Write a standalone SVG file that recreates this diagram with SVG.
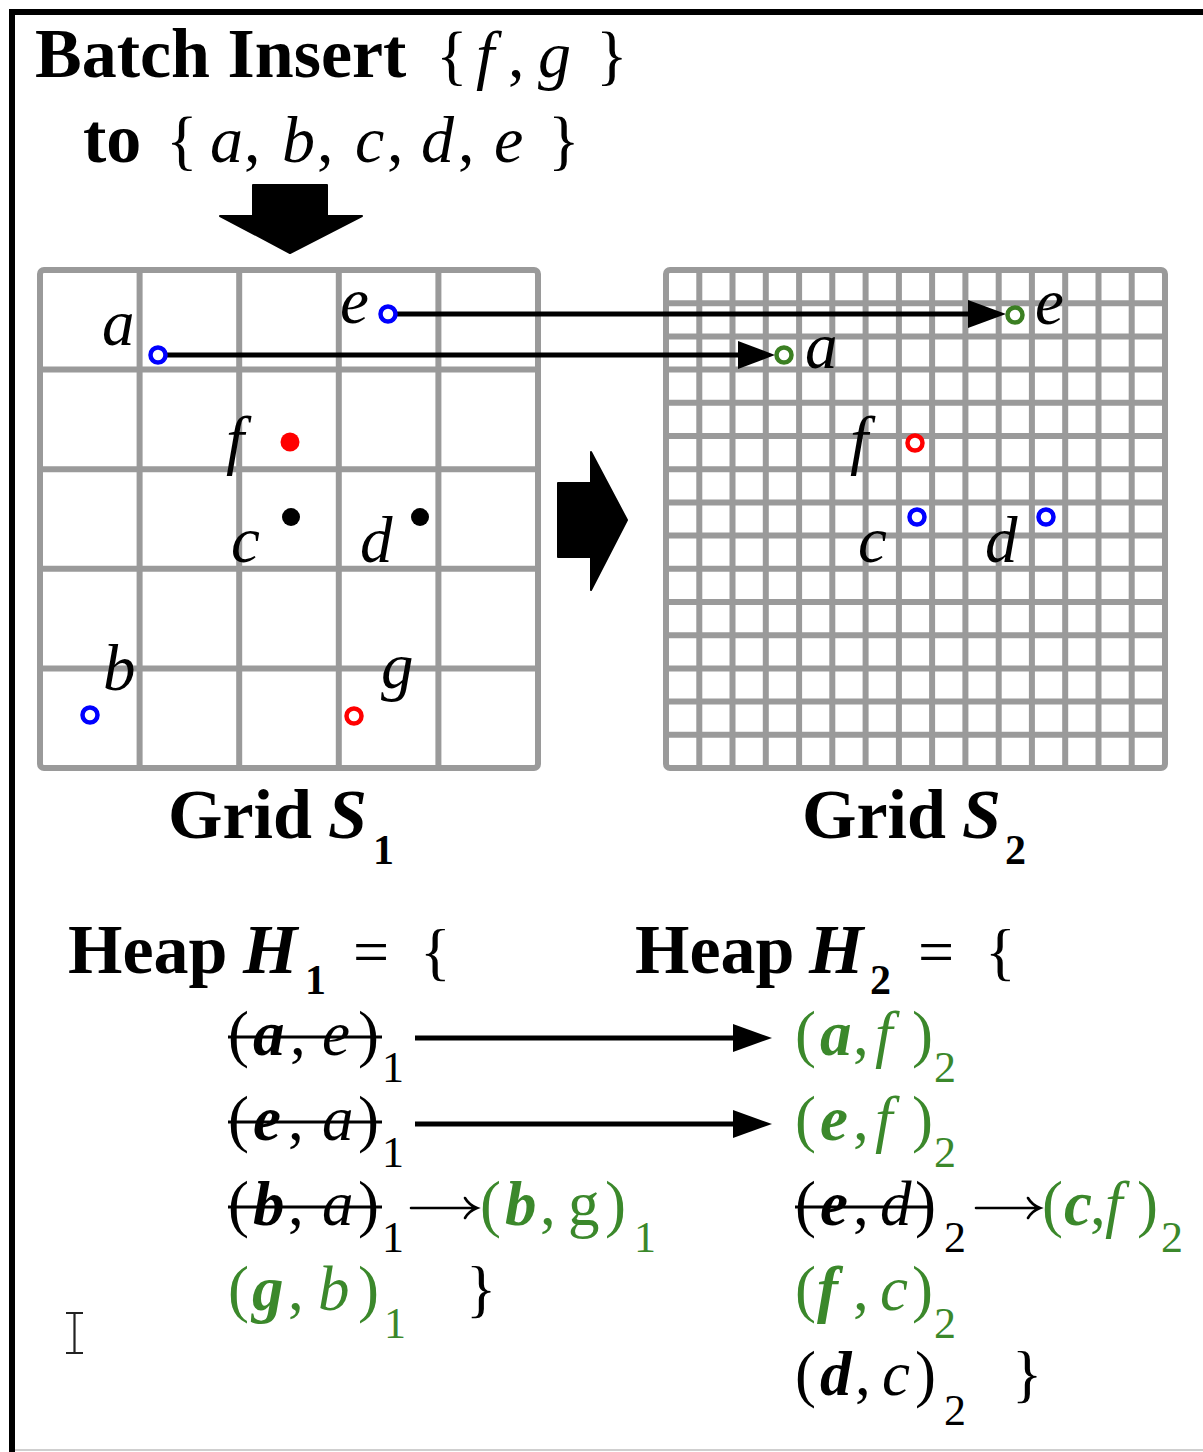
<svg xmlns="http://www.w3.org/2000/svg" width="1203" height="1452" viewBox="0 0 1203 1452">
<style>
text{font-family:"Liberation Serif","Times New Roman","DejaVu Serif",serif;fill:#000}
.b{font-weight:bold}
.i{font-style:italic}
.bi{font-weight:bold;font-style:italic}
.g{fill:#3b882b}
.gl{fill:none;stroke:#9a9a9a;stroke-width:6}
.lbl{font-size:65px;font-style:italic}
.m{font-size:63px}
.s{font-size:44px}
.ring{fill:#fff;stroke-width:4.5}
.strike{stroke:#000;stroke-width:3}
.conn{stroke:#000;stroke-width:5;fill:none}
.thin{stroke:#000;stroke-width:2.6;fill:none;stroke-linecap:round}
</style>
<rect width="1203" height="1452" fill="#fff"/>
<g id="frame">
<path d="M12,1452 V12 H1203" fill="none" stroke="#000" stroke-width="6"/>
<path d="M15,1450 H1203" stroke="#cfcfcf" stroke-width="2"/>
</g>
<g id="title">
<text x="35" y="77" font-size="70" class="b">Batch Insert</text>
<text font-size="66"><tspan x="436" y="77">{</tspan><tspan x="476" class="i">f</tspan><tspan x="508">,</tspan><tspan x="538" class="i">g</tspan><tspan x="596">}</tspan></text>
<text font-size="66" y="162"><tspan x="83" class="b" font-size="70">to</tspan><tspan x="166">{</tspan><tspan x="210" class="i">a</tspan><tspan x="244">,</tspan><tspan x="282" class="i">b</tspan><tspan x="317">,</tspan><tspan x="355" class="i">c</tspan><tspan x="387">,</tspan><tspan x="421" class="i">d</tspan><tspan x="458">,</tspan><tspan x="494" class="i">e</tspan><tspan x="548">}</tspan></text>
</g>
<g id="down-arrow">
<path d="M253,185 H327 V216 H362 L290,253 L220,216 H253 Z" fill="#000" stroke="#000" stroke-width="2" stroke-linejoin="round"/>
</g>
<g id="right-arrow">
<path d="M558,483 H591 V452 L627,520 L591,590 V557 H558 Z" fill="#000" stroke="#000" stroke-width="2" stroke-linejoin="round"/>
</g>
<g id="gridS1">
<rect x="40" y="270" width="498" height="498" rx="4" class="gl"/>
<path class="gl" d="M139.6,270V768M239.2,270V768M338.8,270V768M438.4,270V768M40,369.6H538M40,469.2H538M40,568.8H538M40,668.4H538"/>
</g>
<g id="gridS2">
<rect x="666" y="270" width="499" height="498" rx="4" class="gl"/>
<path class="gl" d="M699.3,270V768M732.5,270V768M765.8,270V768M799.1,270V768M832.3,270V768M865.6,270V768M898.9,270V768M932.1,270V768M965.4,270V768M998.7,270V768M1031.9,270V768M1065.2,270V768M1098.5,270V768M1131.7,270V768M666,303.2H1165M666,336.4H1165M666,369.6H1165M666,402.8H1165M666,436H1165M666,469.2H1165M666,502.4H1165M666,535.6H1165M666,568.8H1165M666,602H1165M666,635.2H1165M666,668.4H1165M666,701.6H1165M666,734.8H1165"/>
</g>
<g id="connectors">
<line x1="396" y1="314" x2="975" y2="314" class="conn"/>
<path d="M968,300 L1006,314 L968,328 Z" fill="#000"/>
<line x1="166" y1="355" x2="745" y2="355" class="conn"/>
<path d="M738,341 L775,355 L738,369 Z" fill="#000"/>
<line x1="415" y1="1038" x2="740" y2="1038" class="conn"/>
<path d="M733,1024 L772,1038 L733,1052 Z" fill="#000"/>
<line x1="415" y1="1124" x2="740" y2="1124" class="conn"/>
<path d="M733,1110 L772,1124 L733,1138 Z" fill="#000"/>
<path class="thin" d="M411,1208 H476 M465,1198 Q469,1205 477,1208 Q469,1211 465,1218"/>
<path class="thin" d="M976,1208 H1039 M1028,1198 Q1032,1205 1040,1208 Q1032,1211 1028,1218"/>
</g>
<g id="points-S1">
<circle cx="158" cy="355" r="7.5" class="ring" stroke="#0000ff"/>
<text x="102" y="345" class="lbl">a</text>
<circle cx="388" cy="314" r="7.5" class="ring" stroke="#0000ff"/>
<text x="340" y="323" class="lbl">e</text>
<circle cx="290" cy="442" r="9.5" fill="#ff0000"/>
<text x="226" y="462" class="lbl">f</text>
<circle cx="291" cy="517" r="9" fill="#000"/>
<text x="231" y="562" class="lbl">c</text>
<circle cx="420" cy="517" r="9" fill="#000"/>
<text x="360" y="562" class="lbl">d</text>
<circle cx="90" cy="715" r="7.5" class="ring" stroke="#0000ff"/>
<text x="103" y="690" class="lbl">b</text>
<circle cx="354" cy="716" r="7.5" class="ring" stroke="#ff0000"/>
<text x="381" y="688" class="lbl">g</text>
</g>
<g id="points-S2">
<circle cx="784" cy="355" r="7.5" class="ring" stroke="#3b7f22"/>
<text x="805" y="368" class="lbl">a</text>
<circle cx="1015" cy="315" r="7.5" class="ring" stroke="#3b7f22"/>
<text x="1035" y="324" class="lbl">e</text>
<circle cx="915" cy="443" r="7.5" class="ring" stroke="#ff0000"/>
<text x="850" y="462" class="lbl">f</text>
<circle cx="917" cy="517" r="7.5" class="ring" stroke="#0000ff"/>
<text x="858" y="562" class="lbl">c</text>
<circle cx="1046" cy="517" r="7.5" class="ring" stroke="#0000ff"/>
<text x="985" y="562" class="lbl">d</text>
</g>
<g id="label-S1">
<text y="838" font-size="70"><tspan x="168" class="b">Grid</tspan><tspan x="328" class="bi">S</tspan><tspan x="373" y="864" class="b" font-size="42">1</tspan></text>
</g>
<g id="label-S2">
<text y="838" font-size="70"><tspan x="802" class="b">Grid</tspan><tspan x="962" class="bi">S</tspan><tspan x="1005" y="864" class="b" font-size="42">2</tspan></text>
</g>
<g id="heap-H1">
<text y="973" font-size="70"><tspan x="68" class="b">Heap</tspan><tspan x="243" class="bi">H</tspan><tspan x="305" y="994" class="b" font-size="42">1</tspan><tspan x="353" y="973" font-size="64">=</tspan><tspan x="420" font-size="64">{</tspan></text>
<text class="m" y="1055"><tspan x="228">(</tspan><tspan x="253" class="bi">a</tspan><tspan x="290">,</tspan><tspan x="322" class="i">e</tspan><tspan x="358">)</tspan><tspan x="382" y="1082" class="s">1</tspan></text>
<line x1="228" y1="1037" x2="382" y2="1037" class="strike"/>
<text class="m" y="1140"><tspan x="228">(</tspan><tspan x="253" class="bi">e</tspan><tspan x="288">,</tspan><tspan x="322" class="i">a</tspan><tspan x="358">)</tspan><tspan x="382" y="1167" class="s">1</tspan></text>
<line x1="228" y1="1122" x2="382" y2="1122" class="strike"/>
<text class="m" y="1225"><tspan x="228">(</tspan><tspan x="253" class="bi">b</tspan><tspan x="288">,</tspan><tspan x="322" class="i">a</tspan><tspan x="358">)</tspan><tspan x="382" y="1252" class="s">1</tspan></text>
<line x1="228" y1="1207" x2="382" y2="1207" class="strike"/>
<text class="m g" y="1225"><tspan x="480">(</tspan><tspan x="505" class="bi">b</tspan><tspan x="540">,</tspan><tspan x="568">g</tspan><tspan x="605">)</tspan><tspan x="634" y="1252" class="s">1</tspan></text>
<text class="m g" y="1310"><tspan x="228">(</tspan><tspan x="252" class="bi">g</tspan><tspan x="288">,</tspan><tspan x="318" class="i">b</tspan><tspan x="358">)</tspan><tspan x="384" y="1338" class="s">1</tspan></text>
<text class="m" x="466" y="1310">}</text>
</g>
<g id="heap-H2">
<text y="973" font-size="70"><tspan x="635" class="b">Heap</tspan><tspan x="809" class="bi">H</tspan><tspan x="870" y="994" class="b" font-size="42">2</tspan><tspan x="918" y="973" font-size="64">=</tspan><tspan x="985" font-size="64">{</tspan></text>
<text class="m g" y="1055"><tspan x="795">(</tspan><tspan x="820" class="bi">a</tspan><tspan x="853">,</tspan><tspan x="875" class="i">f</tspan><tspan x="912">)</tspan><tspan x="934" y="1082" class="s">2</tspan></text>
<text class="m g" y="1140"><tspan x="795">(</tspan><tspan x="820" class="bi">e</tspan><tspan x="853">,</tspan><tspan x="875" class="i">f</tspan><tspan x="912">)</tspan><tspan x="934" y="1167" class="s">2</tspan></text>
<text class="m" y="1225"><tspan x="795">(</tspan><tspan x="820" class="bi">e</tspan><tspan x="853">,</tspan><tspan x="880" class="i">d</tspan><tspan x="915">)</tspan><tspan x="944" y="1252" class="s">2</tspan></text>
<line x1="795" y1="1207" x2="932" y2="1207" class="strike"/>
<text class="m g" y="1225"><tspan x="1042">(</tspan><tspan x="1064" class="bi">c</tspan><tspan x="1090">,</tspan><tspan x="1105" class="i">f</tspan><tspan x="1137">)</tspan><tspan x="1161" y="1252" class="s">2</tspan></text>
<text class="m g" y="1310"><tspan x="795">(</tspan><tspan x="817" class="bi">f</tspan><tspan x="853">,</tspan><tspan x="880" class="i">c</tspan><tspan x="912">)</tspan><tspan x="934" y="1338" class="s">2</tspan></text>
<text class="m" y="1395"><tspan x="795">(</tspan><tspan x="820" class="bi">d</tspan><tspan x="855">,</tspan><tspan x="882" class="i">c</tspan><tspan x="915">)</tspan><tspan x="944" y="1425" class="s">2</tspan><tspan x="1012" y="1395">}</tspan></text>
</g>
<g id="cursor">
<path d="M66,1313 H83 M74.5,1313 V1353 M66,1353 H83" fill="none" stroke="#222" stroke-width="2.2"/>
</g>
</svg>
